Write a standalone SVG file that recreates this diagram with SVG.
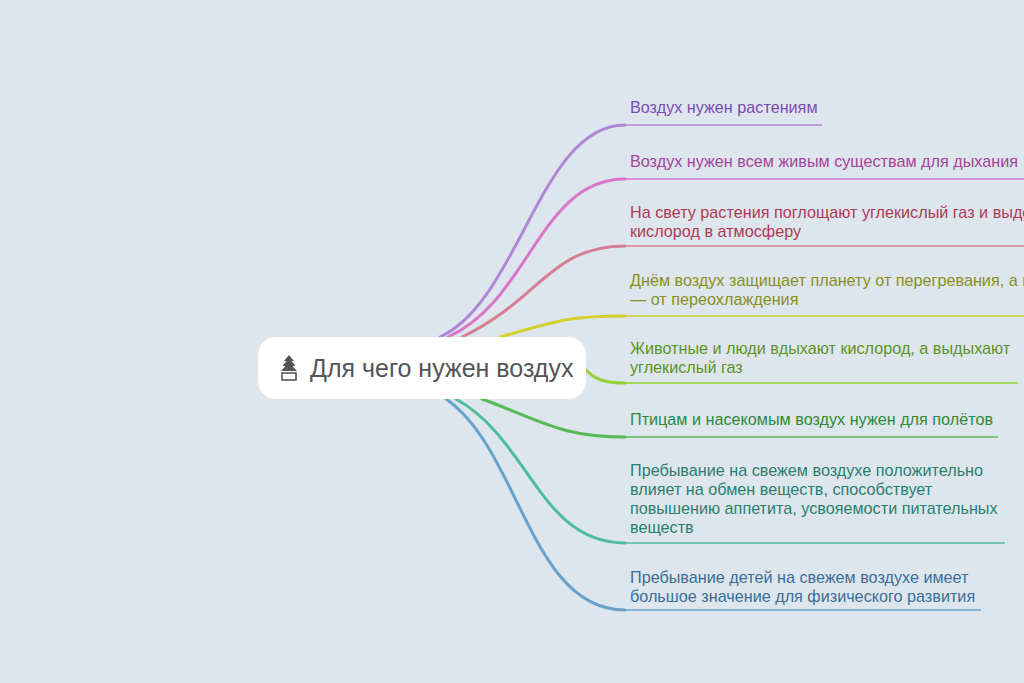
<svg xmlns="http://www.w3.org/2000/svg" width="1024" height="683" viewBox="0 0 1024 683">
<style>
.c{fill:none;stroke-width:3;stroke-linecap:round}
.u{fill:none;stroke-width:1.6}
text{font-family:"Liberation Sans",Arial,sans-serif;font-size:16.2px}
</style>
<rect width="1024" height="683" fill="#dde6ec"/>
<g id="connectors">
<path class="c" stroke="#b086d8" d="M440,337 C520,300 540,125 625,125"/><path class="u" stroke="#b086d8" d="M625,125H822"/>
<path class="c" stroke="#d877c9" d="M448,337 C530,300 540,179 625,179"/><path class="u" stroke="#d877c9" d="M625,179H1024"/>
<path class="c" stroke="#d67f92" d="M462,337 C540,300 550,246 625,246"/><path class="u" stroke="#d67f92" d="M625,246H1024"/>
<path class="c" stroke="#d4d12e" d="M500,337 C560,320 570,316 625,316"/><path class="u" stroke="#d4d12e" d="M625,316H1024"/>
<path class="c" stroke="#94cf35" d="M584,368 C595,380 605,383 625,383"/><path class="u" stroke="#94cf35" d="M625,383H1018"/>
<path class="c" stroke="#55bb56" d="M482,399 C540,420 560,437 625,437"/><path class="u" stroke="#55bb56" d="M625,437H998"/>
<path class="c" stroke="#4fbb9f" d="M456,399 C530,440 540,543 625,543"/><path class="u" stroke="#4fbb9f" d="M625,543H1005"/>
<path class="c" stroke="#67a2cc" d="M446,399 C520,450 530,610 625,610"/><path class="u" stroke="#67a2cc" d="M625,610H981"/>
</g>
<g id="root">
<rect x="258" y="337" width="328" height="62" rx="18" fill="#fff"/>
<g fill="#555">
<path d="M289,355 l-5,6 h2.5 l-4,5 h3 l-4.5,5 h16 l-4.5,-5 h3 l-4,-5 h2.5z"/>
<rect x="282" y="373" width="14" height="7" fill="none" stroke="#555" stroke-width="1.6"/>
</g>
<text x="310" y="377" style="font-size:25px" fill="#555">Для чего нужен воздух</text>
</g>
<g id="n1"><text x="630" y="113" fill="#7b4bb3">Воздух нужен растениям</text></g>
<g id="n2"><text x="630" y="167" fill="#a5449a">Воздух нужен всем живым существам для дыхания</text></g>
<g id="n3"><text x="630" y="218" fill="#b03a55">На свету растения поглощают углекислый газ и выделяют</text><text x="630" y="237" fill="#b03a55">кислород в атмосферу</text></g>
<g id="n4"><text x="630" y="286" fill="#8a8f1e">Днём воздух защищает планету от перегревания, а ночью</text><text x="630" y="305" fill="#8a8f1e">— от переохлаждения</text></g>
<g id="n5"><text x="630" y="354" fill="#5d9424">Животные и люди вдыхают кислород, а выдыхают</text><text x="630" y="373" fill="#5d9424">углекислый газ</text></g>
<g id="n6"><text x="630" y="425" fill="#2f8a3a">Птицам и насекомым воздух нужен для полётов</text></g>
<g id="n7"><text x="630" y="476" fill="#2a7f72">Пребывание на свежем воздухе положительно</text><text x="630" y="495" fill="#2a7f72">влияет на обмен веществ, способствует</text><text x="630" y="514" fill="#2a7f72">повышению аппетита, усвояемости питательных</text><text x="630" y="533" fill="#2a7f72">веществ</text></g>
<g id="n8"><text x="630" y="583" fill="#3c6e99">Пребывание детей на свежем воздухе имеет</text><text x="630" y="602" fill="#3c6e99">большое значение для физического развития</text></g>
</svg>
